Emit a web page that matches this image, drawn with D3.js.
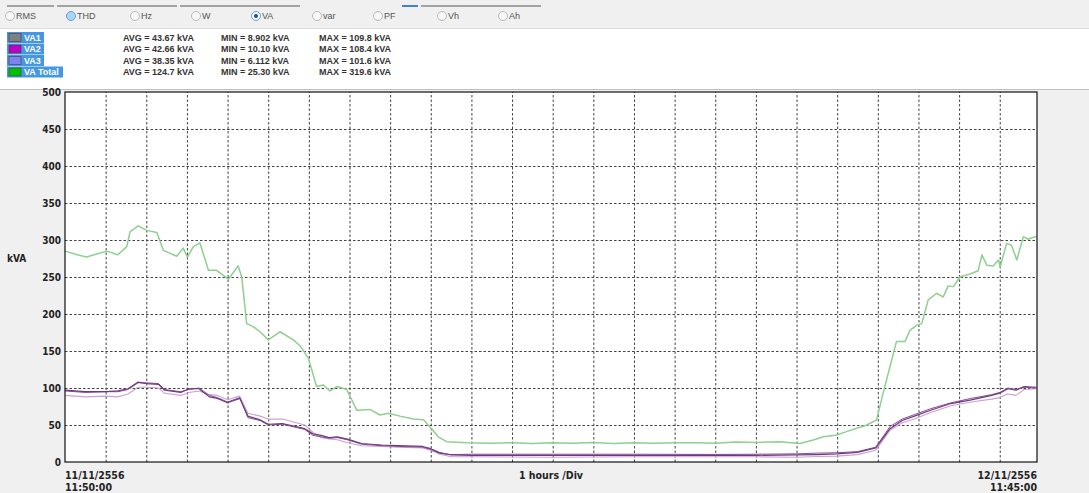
<!DOCTYPE html>
<html>
<head>
<meta charset="utf-8">
<script src="https://cdn.jsdelivr.net/npm/d3@7"></script>
<style>
  html, body { margin: 0; padding: 0; background: #f0f0f0; }
  svg { display: block; }
  .lbl { font-family: "DejaVu Sans Condensed", "DejaVu Sans", sans-serif; font-weight: bold; font-size: 10.5px; fill: #222; }
  .ylbl { font-family: "DejaVu Sans Condensed", "DejaVu Sans", sans-serif; font-weight: bold; font-size: 10px; fill: #222; }
  .radio text { font-family: "Liberation Sans", Arial, sans-serif; font-size: 9px; fill: #555; }
  .stat { font-family: "Liberation Sans", Arial, sans-serif; font-weight: bold; font-size: 9px; fill: #333; }
</style>
</head>
<body>
<svg id="chart" width="1089" height="493"></svg>
<script>
// ---- data (hours after 11/11/2556 11:50:00) ----
const modes = ["RMS", "THD", "Hz", "W", "VA", "var", "PF", "Vh", "Ah"];
const selectedMode = "VA";

const seriesNames = ["VA1", "VA2", "VA3", "VA Total"];
const avgText = ["AVG = 43.67 kVA", "AVG = 42.66 kVA", "AVG = 38.35 kVA", "AVG = 124.7 kVA"];
const minText = ["MIN = 8.902 kVA", "MIN = 10.10 kVA", "MIN = 6.112 kVA", "MIN = 25.30 kVA"];
const maxText = ["MAX = 109.8 kVA", "MAX = 108.4 kVA", "MAX = 101.6 kVA", "MAX = 319.6 kVA"];

const yTicks = [0, 50, 100, 150, 200, 250, 300, 350, 400, 450, 500];
const hourLines = [1,2,3,4,5,6,7,8,9,10,11,12,13,14,15,16,17,18,19,20,21,22,23];
const spanHours = 23.9167;   // 11:50:00 -> 11:45:00 next day

const totalTimes = [0,0.3,0.53,0.78,1.03,1.3,1.52,1.6,1.8,2.01,2.26,2.42,2.75,2.91,3.01,3.16,3.32,3.53,3.73,4.02,4.26,4.35,4.47,4.63,4.8,5.0,5.29,5.62,5.8,5.99,6.19,6.36,6.52,6.69,6.93,7.18,7.5,7.75,7.96,8.24,8.57,8.82,9.02,9.18,9.39,9.88,10.5,11,11.5,12,12.5,13,13.5,14,14.5,15,15.5,16,16.5,17,17.59,18.09,18.41,18.66,18.99,19.23,19.48,19.73,19.97,20.13,20.3,20.46,20.67,20.79,20.96,21.08,21.24,21.45,21.61,21.73,21.86,22.02,22.27,22.47,22.56,22.68,22.84,22.97,23.01,23.17,23.29,23.42,23.58,23.7,23.9];
const vaTotal = [285,280,277,281,285,280,291,311,319,313,310,286,278,289,277,291,296,259,259,247,265,250,187,183,176,165,176,165,156,140,102,104,96,102,98,70,71,63.5,66,62,58,57,45,34,27.5,26,25.5,26,25,26,25.5,26.5,25,26,25.5,26,26,25.5,27,26.5,27.5,25,29.7,34,36.5,41,45.5,50,57,93,129,163,163,178,185,187,219,228,223,238,237,250,254,258.5,280,266,265,273,263.5,295.5,293,273,304.5,301,305];

const phaseTimes = [0,0.5,1.0,1.3,1.55,1.8,2.0,2.3,2.45,2.85,3.05,3.3,3.55,3.75,4.0,4.3,4.5,4.8,5.0,5.35,5.9,6.1,6.3,6.5,6.7,6.95,7.3,7.8,8.2,8.8,9.0,9.2,9.5,10,12,14,16,17,18,18.5,19,19.5,19.95,20.3,20.6,20.9,21.3,21.8,22.3,22.8,23.0,23.2,23.4,23.6,23.9];
const va1 = [97,95,95,96,99,108,106,105,97,94,99,99,88,86,80,86,62,57,51,52,45,38,36,33,34,31,25,23,22,21,18,13,9.5,9,9,9,9,9,9.5,10,11,13,19,45,56,62,70,79,84,90,93,99,97,102,101];
const va2 = [96,94,95,95,98,107,107,106,98,95,98,100,90,87,81,87,60,56,50,51,44,36,34,32,33,30,24,22,21,20,17,12,10,10.5,10.5,10.5,10.2,10.5,11,12,12.5,14,20,48,58,64,72,80,86,91,94,100,98,101,100];
const va3 = [90,88,89,88,92,101,101,100,93,90,94,96,91,90,84,89,66,62,58,58,50,40,33,31,30,26,22,21,20,19,16,11,7,7,6.5,7,7,7,6.5,7.5,8,10,16,43,53,58,67,76,81,85,87,92,90,98,99];

const swatchColors = ["#808080", "#c000c0", "#8080f0", "#00c000"];
const lineColors = ["#6e3a7e", "#8a4c98", "#c9a3d0", "#8fcf8f"];

// ---- layout ----
const svg = d3.select("#chart");
const margin = {left: 65, right: 52, top: 92, bottom: 31};
const width = 1089 - margin.left - margin.right;
const height = 493 - margin.top - margin.bottom;

// toolbar
svg.append("rect").attr("x", 0).attr("y", 0).attr("width", 1089).attr("height", 29).attr("fill", "#f0f0f0");
const tabs = [[7,54],[57,177],[180,300],[421,541]];
svg.selectAll(".tab").data(tabs).enter().append("line")
    .attr("class", "tab")
    .attr("x1", d=>{return d[0];}).attr("x2", d=>{return d[1];})
    .attr("y1", 6).attr("y2", 6)
    .attr("stroke", "#8a8a8a").attr("stroke-width", 1.5);
svg.append("line").attr("x1", 402).attr("x2", 418).attr("y1", 6).attr("y2", 6)
    .attr("stroke", "#3c84d0").attr("stroke-width", 2);

const radioX = [10, 71, 135, 196, 256, 317, 378, 442, 503];
const radio = svg.append("g").attr("class", "radio")
    .selectAll("g").data(modes).enter().append("g")
    .attr("transform", (d, i)=>{ return "translate(" + radioX[i] + ",16)"; });
radio.append("circle")
    .attr("r", 4.5)
    .attr("fill", d=>{ return d === "THD" ? "#a9d6f2" : "#f7f7f7"; })
    .attr("stroke", d=>{ return d === "THD" || d === selectedMode ? "#5a9ccc" : "#b4b4b4"; })
    .attr("stroke-width", 0.9);
radio.filter(d=>{ return d === selectedMode; }).append("circle")
    .attr("r", 2).attr("fill", "#24527a");
radio.append("text").attr("x", 6).attr("y", 3).text(d=>{ return d; });
svg.append("line").attr("x1", 0).attr("x2", 1089).attr("y1", 28.5).attr("y2", 28.5)
    .attr("stroke", "#dcdcdc");

// legend panel
svg.append("rect").attr("x", 0).attr("y", 29).attr("width", 1089).attr("height", 60).attr("fill", "#ffffff");
svg.append("line").attr("x1", 0).attr("x2", 1089).attr("y1", 89.5).attr("y2", 89.5).attr("stroke", "#c0c0c0");

const rowY = [37.5, 49, 60.5, 72];
const legend = svg.append("g").attr("class", "legend")
    .selectAll("g").data(seriesNames).enter().append("g")
    .attr("transform", (d, i)=>{ return "translate(0," + rowY[i] + ")"; });
legend.append("rect")
    .attr("x", 7).attr("y", -5.5).attr("height", 11)
    .attr("width", d=>{ return d === "VA Total" ? 56 : 37; })
    .attr("fill", "#4597e2");
legend.append("rect")
    .attr("x", 9).attr("y", -4).attr("width", 12).attr("height", 8)
    .attr("fill", (d, i)=>{ return swatchColors[i]; })
    .attr("stroke", "#404040").attr("stroke-width", 0.6);
legend.append("text")
    .attr("x", 24).attr("y", 3.2)
    .attr("font-family", "Liberation Sans, Arial, sans-serif")
    .attr("font-size", "9px").attr("font-weight", "bold").attr("fill", "#ffffff")
    .text(d=>{ return d; });
legend.append("text").attr("class", "stat").attr("x", 123).attr("y", 3.2).text((d, i)=>{ return avgText[i]; });
legend.append("text").attr("class", "stat").attr("x", 221).attr("y", 3.2).text((d, i)=>{ return minText[i]; });
legend.append("text").attr("class", "stat").attr("x", 319).attr("y", 3.2).text((d, i)=>{ return maxText[i]; });

// plot area
const x = d3.scaleLinear().domain([0, spanHours]).range([0, width]);
const y = d3.scaleLinear().domain([0, 500]).range([height, 0]);

const chart_area = svg.append("g").attr("transform", "translate(" + margin.left + "," + margin.top + ")");
chart_area.append("rect").attr("width", width).attr("height", height).attr("fill", "#ffffff");

const xGrid = chart_area.append("g").attr("class", "xGrid")
    .attr("transform", "translate(0," + height + ")")
    .call(d3.axisBottom(x).tickValues(hourLines).tickSize(-height).tickFormat(""));
const yGrid = chart_area.append("g").attr("class", "yGrid")
    .call(d3.axisLeft(y).tickValues(yTicks.filter(v=>{ return v > 0 && v < 500; })).tickSize(-width).tickFormat(""));
[xGrid, yGrid].forEach(g=>{
    g.select(".domain").remove();
    g.selectAll("line").attr("stroke", "#444").attr("stroke-dasharray", "2.5,2").attr("stroke-width", 1);
});

// series
const line = d3.line()
    .x(d=>{ return x(d[0]); })
    .y(d=>{ return y(d[1]); });
const phases = [
    {name: "VA3", times: phaseTimes, values: va3, color: lineColors[2], w: 1.1},
    {name: "VA2", times: phaseTimes, values: va2, color: lineColors[1], w: 1},
    {name: "VA1", times: phaseTimes, values: va1, color: lineColors[0], w: 1.2},
    {name: "VA Total", times: totalTimes, values: vaTotal, color: lineColors[3], w: 1.5}
];
chart_area.append("g").attr("class", "chartBody")
    .selectAll("path").data(phases).enter().append("path")
    .attr("fill", "none")
    .attr("stroke", d=>{ return d.color; })
    .attr("stroke-width", d=>{ return d.w; })
    .attr("stroke-linejoin", "round")
    .attr("d", d=>{ return line(d.times.map((t, i)=>{ return [t, d.values[i]]; })); });

chart_area.append("rect").attr("width", width).attr("height", height)
    .attr("fill", "none").attr("stroke", "#111").attr("stroke-width", 1.2);

// y labels
const yAxis = chart_area.append("g").attr("class", "yAxis")
    .call(d3.axisLeft(y).tickValues(yTicks).tickSize(0).tickPadding(4));
yAxis.select(".domain").remove();
yAxis.selectAll("text").attr("class", "ylbl").attr("font-family", null).attr("font-size", null);

svg.append("text").attr("class", "ylbl").attr("x", 7).attr("y", 262).text("kVA");

// x labels
const bottomY = margin.top + height;
svg.append("text").attr("class", "lbl").attr("x", margin.left).attr("y", bottomY + 17).text("11/11/2556");
svg.append("text").attr("class", "lbl").attr("x", margin.left).attr("y", bottomY + 29).text("11:50:00");
svg.append("text").attr("class", "lbl").attr("x", margin.left + width).attr("y", bottomY + 17).attr("text-anchor", "end").text("12/11/2556");
svg.append("text").attr("class", "lbl").attr("x", margin.left + width).attr("y", bottomY + 29).attr("text-anchor", "end").text("11:45:00");
svg.append("text").attr("class", "lbl").attr("x", 551).attr("y", bottomY + 17).attr("text-anchor", "middle").text("1 hours /Div");
</script>
</body>
</html>
